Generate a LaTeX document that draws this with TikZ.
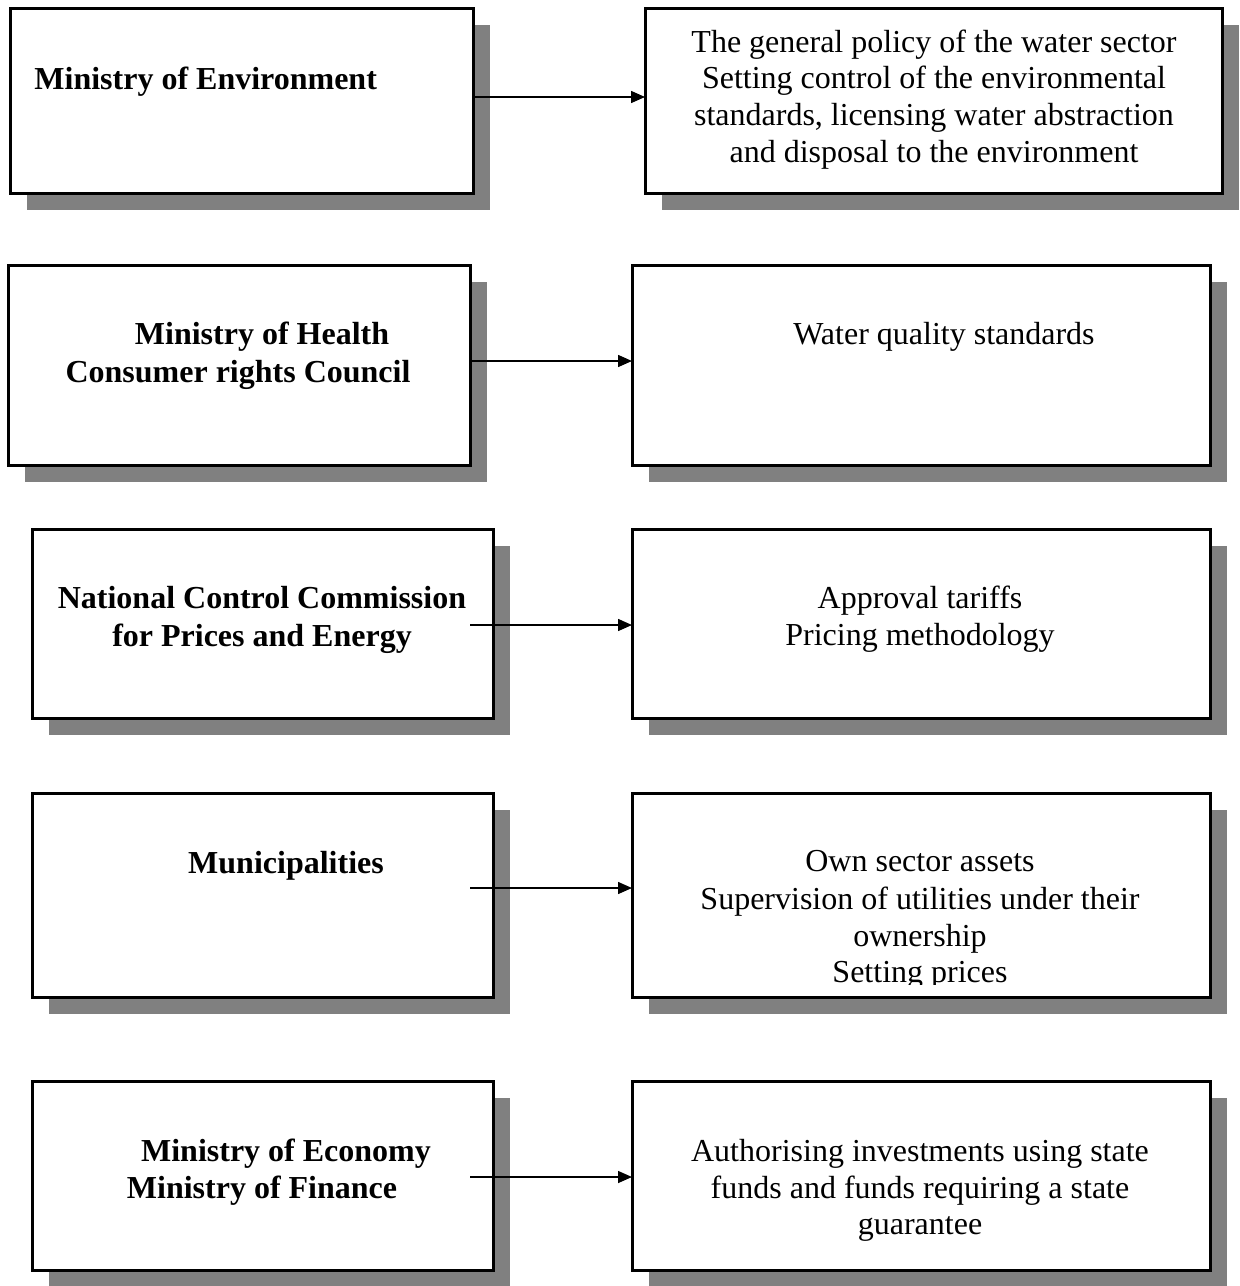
\documentclass[tikz,border=0pt]{standalone}
\usepackage{fontspec}
\setmainfont{Liberation Serif}
\usetikzlibrary{shadows,arrows.meta}
\definecolor{shadowgray}{HTML}{808080}
\begin{document}
\begin{tikzpicture}[x=0.5pt,y=-0.5pt,
  box/.style={draw, line width=1.5pt, fill=white, inner sep=0pt, outer sep=0pt,
    drop shadow={shadow xshift=8.5pt, shadow yshift=-8.5pt, fill=shadowgray, opacity=1}},
  txt/.style={font=\fontsize{16}{18}\selectfont, anchor=base, inner sep=0pt},
  btxt/.style={txt, font=\fontsize{16}{18}\selectfont\bfseries},
  arr/.style={line width=0.75pt, -{Triangle[length=7pt,width=6pt]}}]
\useasboundingbox (0,0) rectangle (1239,1286);
% boxes
\node[box, minimum width=231.5pt, minimum height=92.5pt] (L1) at (241.5,100.5) {};
\node[box, minimum width=288.5pt, minimum height=92.5pt] (R1) at (933.5,100.5) {};
\node[box, minimum width=231pt, minimum height=100pt] (L2) at (239,365) {};
\node[box, minimum width=289pt, minimum height=100pt] (R2) at (921,365) {};
\node[box, minimum width=230.5pt, minimum height=94.5pt] (L3) at (262.5,623.5) {};
\node[box, minimum width=289pt, minimum height=94.5pt] (R3) at (921,623.5) {};
\node[box, minimum width=230.5pt, minimum height=102pt] (L4) at (262.5,895) {};
\node[box, minimum width=289pt, minimum height=102pt] (R4) at (921,895) {};
\node[box, minimum width=230.5pt, minimum height=94.5pt] (L5) at (262.5,1175.5) {};
\node[box, minimum width=289pt, minimum height=94.5pt] (R5) at (921,1175.5) {};
% texts
\node[btxt, anchor=base west] (t1) at (34,89) {Ministry of Environment};
\node[txt] (u1a) at (934,52) {The general policy of the water sector};
\node[txt] (u1b) at (934,88) {Setting control of the environmental};
\node[txt] (u1c) at (934,125) {standards, licensing water abstraction};
\node[txt] (u1d) at (934,162) {and disposal to the environment};
\node[btxt] (t2a) at (262,344) {Ministry of Health};
\node[btxt] (t2b) at (238,382) {Consumer rights Council};
\node[txt] (u2) at (944,344) {Water quality standards};
\node[btxt] (t3a) at (262,608) {National Control Commission};
\node[btxt] (t3b) at (262,646) {for Prices and Energy};
\node[txt] (u3a) at (920,608) {Approval tariffs};
\node[txt] (u3b) at (920,645) {Pricing methodology};
\node[btxt] (t4) at (286,873) {Municipalities};
\node[txt] (u4a) at (920,871) {Own sector assets};
\node[txt] (u4b) at (920,909) {Supervision of utilities under their};
\node[txt] (u4c) at (920,946) {ownership};
\begin{scope}
\clip (640,950) rectangle (1200,984);
\node[txt] (u4d) at (920,982) {Setting prices};
\end{scope}
\node[btxt] (t5a) at (286,1161) {Ministry of Economy};
\node[btxt] (t5b) at (262,1198) {Ministry of Finance};
\node[txt] (u5a) at (920,1161) {Authorising investments using state};
\node[txt] (u5b) at (920,1198) {funds and funds requiring a state};
\node[txt] (u5c) at (920,1234) {guarantee};
% arrows
\coordinate (s1) at (473,97);
\coordinate (s2) at (470,361);
\coordinate (s3) at (470,625);
\coordinate (s4) at (470,888);
\coordinate (s5) at (470,1177);
\draw[arr] (s1) -- (s1 -| R1.west);
\draw[arr] (s2) -- (s2 -| R2.west);
\draw[arr] (s3) -- (s3 -| R3.west);
\draw[arr] (s4) -- (s4 -| R4.west);
\draw[arr] (s5) -- (s5 -| R5.west);
\end{tikzpicture}
\end{document}
